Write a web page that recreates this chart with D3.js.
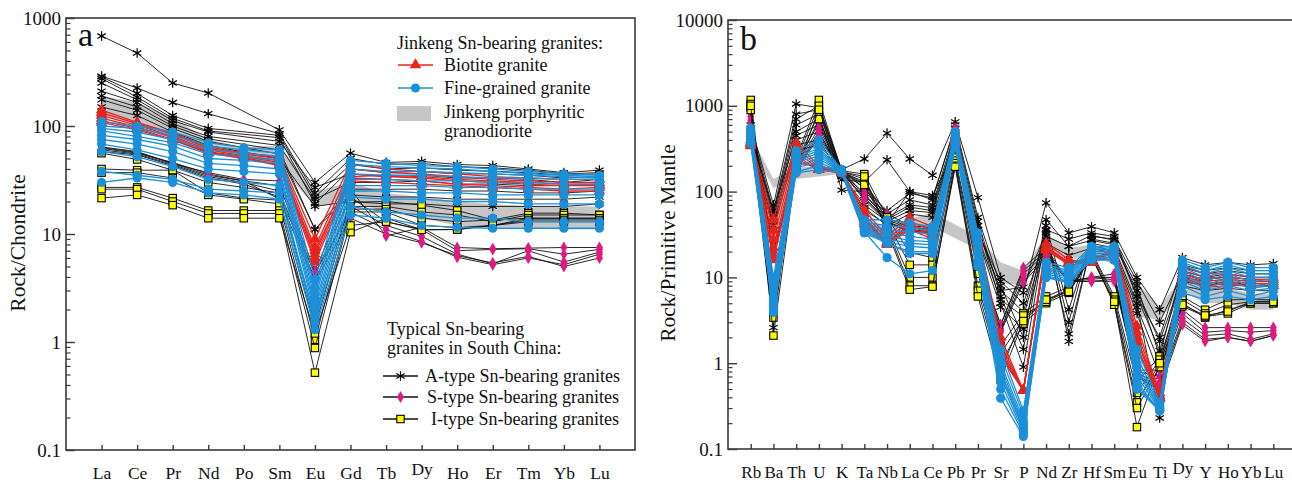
<!DOCTYPE html>
<html>
<head>
<meta charset="utf-8">
<script src="https://cdn.jsdelivr.net/npm/d3@7"></script>
<style>
  body { margin: 0; background: #fff; }
  svg { font-family: "Liberation Serif", "Times New Roman", serif; }
</style>
</head>
<body>
<div id="chart"></div>
<script>
// ---- panel a : chondrite-normalised REE ----
const reeElems = ["La","Ce","Pr","Nd","Po","Sm","Eu","Gd","Tb","Dy","Ho","Er","Tm","Yb","Lu"];

const reeBandHigh = [190,165,120,75,64,66,25,30,24,22,20,19,18,18,18];
const reeBandLow  = [126,105,80,60,52,43,18,20,16,14,12,11.5,11.5,11,11];

const reeAType = [
  [681,474,250,202,null,92,30,56,46,47,44,43,40,37,39],
  [290,225,165,130,null,85,24,50,44,45,42,41,39,36,37],
  [285,200,125,95,null,82,22,44,40,41,39,38,37,35,36],
  [275,185,118,90,null,78,19,40,37,38,36,36,35,33,34],
  [250,175,112,88,null,72,27,36,34,35,33,33,32,30,32],
  [210,165,105,80,null,66,21,30,30,31,29,29,28,28,29],
  [190,150,100,76,null,60,11,26,26,26,25,25,24,24,25],
  [175,140,95,72,null,55,11,23,22,22,21,21,21,21,22],
  [150,125,88,66,null,50,18,20,19,19,18,18,18,18,19]
];
const reeSType = [
  [64,58,45,37,32,31,4.6,26,9.6,11.5,7.5,7.3,7.4,7.5,7.5],
  [62,56,46,36,31,28,4.2,22,13,11,7,7.2,7.3,6.5,7.2],
  [60,55,44,34,30,25,3.8,18,12,9.5,6.5,5.3,7,5.5,6.8],
  [58,54,43,33,29,22,4.4,16,11,8.5,6.1,5.2,6,5.2,6.5],
  [63,57,45,35,31,21,3.6,14,10,8.3,6.3,5.4,6.2,5,6]
];
const reeIType = [
  [56,49,39,30,27,24,1.7,19.7,20,18.5,16.5,13.5,15.6,15.6,15],
  [40,39,39,24,21.5,20.6,1.4,18,18,16,15,13,15,15,15],
  [37,37,33,23,21,19,1.05,17,17,14,13,13.5,14,14,14],
  [27,27,21.5,16.5,16.5,16.5,0.88,16,16,12,11.5,12,14,14,14],
  [26,26,20,15.5,15.5,15.5,0.52,10.4,14,11,11,12,13.5,13.5,13.5],
  [21.5,23,18.5,14,14,14,1.2,12,13,10.9,11,12,13,13,13]
];
const reeBiotite = [
  [140,108,86,64,56,52,9,45,40,38,36,34,33,32,32],
  [132,105,84,62,55,50,7.5,40,37,36,34,32,31,30,30],
  [125,102,80,60,53,48,6.5,36,34,33,31,30,29,28,28],
  [118,98,78,58,52,46,6,33,32,31,29,28,27,26,27],
  [112,95,75,57,51,44,5.5,31,30,29,28,27,26,25,25],
  [108,92,74,56,50,43,7,34,35,34,32,31,30,29,29]
];
const reeFine = [
  [110,100,88,70,63,60,3.8,48,45,43,42,40,38,36,35],
  [100,95,82,65,60,56,3.2,44,42,41,40,38,36,35,34],
  [95,88,75,60,56,52,2.8,40,38,38,37,36,35,34,33],
  [90,80,70,55,52,48,2.5,36,35,35,34,33,33,32,32],
  [82,75,65,50,48,45,2.2,32,32,31,31,30,30,29,29],
  [75,68,58,45,43,40,2,28,28,28,27,27,26,26,26],
  [68,60,50,40,38,36,1.8,25,25,24,24,23,23,23,23],
  [58,52,42,32,30,28,1.6,22,21,21,20,20,19,19,19],
  [38,35,32,26,25,24,1.5,18,16,15,14,14,13,13,13],
  [30,33,30,24,23,21,1.3,15,14,12,11.5,11.3,11.3,11.3,11.3]
];

// ---- panel b : primitive-mantle-normalised spider ----
const spElems = ["Rb","Ba","Th","U","K","Ta","Nb","La","Ce","Pb","Pr","Sr","P","Nd","Zr","Hf","Sm","Eu","Ti","Dy","Y","Ho","Yb","Lu"];

const spBandHigh = [460,140,190,200,190,45,40,48,57,null,30,15,12,32,22,24,20,8.6,4.6,10,8,7.5,6.5,6.5];
const spBandLow  = [330,110,140,150,160,30,28,32,39,null,21,8.6,8,22,16,18,14,3.5,3.2,7,5,5,4.2,4.2];

const spAType = [
  [600,70,1050,950,180,240,480,240,155,650,85,10,6.6,74,33,39,33,10,4.2,17,14,15,14,14.5],
  [550,60,800,900,137,130,235,100,80,600,50,8,2.0,47,23,31,27,6,2,14,12,13,12,12],
  [500,55,700,1000,180,110,60,95,85,550,45,6,1.45,40,4.2,28,25,8,1.2,13,11,12,11,11],
  [480,50,600,800,104,100,55,80,70,500,40,5,0.9,35,1.8,25,22,5,0.23,12,10,11,10,10],
  [450,45,500,700,180,90,50,70,65,450,36,7,7.7,33,3,30,28,9,3,11,9.5,10,9.5,9.5],
  [420,60,450,600,170,85,47,66,60,420,33,9,5,30,23,27,24,7,1.8,10,9,9.5,9,9],
  [400,40,400,500,160,70,45,60,57,380,30,5.5,3.5,28,2.2,24,20,4.5,1,9,8,8.5,8,8],
  [380,35,350,400,150,65,40,55,50,350,28,4.5,2.5,25,18,22,19,3.8,0.7,8,7,7.5,7,7],
  [450,2.6,300,350,175,60,42,100,90,300,36,7,4,36,28,33,30,6,1.4,10,8,9,8,8]
];
const spSType = [
  [830,19.5,215,630,170,125,55,40,38,550,16,2.8,13,22,9,10,11,0.83,0.83,4.2,2.6,2.6,2.6,2.6],
  [750,19.5,200,550,170,110,50,38,36,540,16,2.8,12,20,9,10,10,0.8,0.7,3.8,2.3,2.4,2.3,2.4],
  [680,19.5,190,500,170,95,48,36,34,530,15,2.5,11,19,9,9.5,10,0.75,0.6,3.3,2.1,2.2,1.9,2.2],
  [620,19.5,185,460,170,85,45,35,33,520,15,2.4,9.5,18,9,9,9.5,0.7,0.55,3.0,1.9,2.0,1.8,2.1],
  [580,19.5,180,430,170,80,44,34,32,500,14,2.3,8.7,17,9,9,9,0.7,0.48,2.8,1.8,2.0,1.8,2.1]
];
const spIType = [
  [1170,8.4,250,1170,175,160,50,19.5,17,250,13.5,1.6,3.8,6,7.7,20,6,0.6,1.2,6,4.2,5.5,5.5,5.5],
  [1050,6,230,1000,172,140,45,14,14,230,11,1.3,3.3,5.5,7.2,19,5.5,0.45,1.1,5.5,3.8,4.8,5.2,5.3],
  [950,3.4,210,820,170,130,40,10,10,215,8,1.0,2.9,5,6.6,18,5,0.35,1.0,5,3.4,4.2,5,5],
  [893,2.1,190,700,168,120,38,8,8,200,7,0.8,3.6,5.2,7,18,4.8,0.3,0.9,4.6,3.5,3.8,5,5],
  [1000,5,180,900,170,150,35,7.2,7.8,195,6,0.65,3.1,5.5,6.8,17,5.2,0.18,1.0,4.8,3.6,4,5.2,5.2]
];
const spBiotite = [
  [400,47,370,200,175,61,30,50,39,450,30,2.0,0.48,25,16,15,23,2.7,0.45,13.5,11,11,10,10],
  [380,35,330,190,170,55,28,45,35,420,27,1.7,0.48,23,15,15,21,2.3,0.42,12,10,10,9.5,9.5],
  [360,28,290,185,170,50,26,42,33,400,25,1.5,0.48,22,15,16,20,2.0,0.4,11,9,9.5,9,9],
  [350,22,260,180,165,45,25,38,30,380,23,1.35,0.48,21,14.5,17,19,1.8,0.4,10.5,8.5,9,8.5,8.5],
  [340,18,240,180,165,42,24,36,28,360,22,1.2,0.48,21,14,15,18,1.6,0.38,10,8,8.5,8,8],
  [370,16,215,200,170,48,25,40,32,400,24,1.3,0.48,22,15,16,19,1.45,0.4,9.5,7.7,8,8,8]
];
const spFine = [
  [550,10,300,400,180,47,47,43,39,500,33,1.45,0.28,15,13,23,23,1.45,0.35,16,13,15,13,13],
  [520,8,270,350,178,44,40,38,35,480,28,1.2,0.25,14,12,22,22,1.2,0.33,15,12,14,12,12],
  [500,7,250,320,175,42,36,34,32,450,25,1.0,0.22,13,11.5,21,21,1.0,0.32,14,11,13,11,11],
  [480,6,240,300,175,40,33,30,28,420,22,0.9,0.2,12.5,11,20,20,0.9,0.3,13,10,12,10,10],
  [460,5.5,230,280,172,38,30,27,26,400,20,0.8,0.19,12,10.5,19,19,0.8,0.3,12,9,11,9,9.5],
  [440,5,220,260,170,37,28,25,24,380,18,0.75,0.18,11.5,10,18,18,0.7,0.29,11,8,10,8,8.5],
  [420,4.5,200,240,170,36,26,23,22,370,16,0.7,0.17,11,9.5,17,17,0.6,0.28,10,7.5,9,7.5,8],
  [400,4.2,190,220,168,35,25,20,20,350,15,0.6,0.16,10.5,9,16,16,0.55,0.28,9,7,8,7,7.5],
  [380,4,170,200,168,34,17,11,12,340,13.5,0.5,0.15,10,8.6,16,16,0.5,0.28,8,6,7,6,7],
  [360,3.9,165,180,165,33,25,19,19,330,13.5,0.39,0.14,10,9,17,16,0.5,0.3,6.6,5.5,6,5.5,6]
];

const yTicksA = [0.1,1,10,100,1000];
const yTicksB = [0.1,1,10,100,1000,10000];

const width = 1292, height = 485;
const RED = "#e8231d", BLUE = "#1b90d8", PINK = "#e01a80", YEL = "#ffff00", GRAY = "#c6c6c6";

const svg = d3.select("#chart").append("svg")
  .attr("width", width).attr("height", height)
  .attr("viewBox", [0, 0, width, height]);

// marker drawing
function asterisk(r) {
  const c = r * Math.cos(Math.PI / 6), s = r * Math.sin(Math.PI / 6);
  return `M0,${-r}L0,${r}M${-c},${-s}L${c},${s}M${-c},${s}L${c},${-s}`;
}
function drawMarker(g, type, px, py) {
  if (type === "star") {
    g.append("path").attr("d", asterisk(4.8)).attr("transform", `translate(${px},${py})`)
      .attr("stroke", "#000").attr("stroke-width", 1.2).attr("fill", "none");
  } else if (type === "diamond") {
    g.append("path").attr("d", d3.symbol(d3.symbolDiamond, 42)()).attr("transform", `translate(${px},${py})`)
      .attr("fill", PINK);
  } else if (type === "square") {
    g.append("rect").attr("x", px - 3.7).attr("y", py - 3.7).attr("width", 7.4).attr("height", 7.4)
      .attr("fill", YEL).attr("stroke", "#000").attr("stroke-width", 1.1);
  } else if (type === "triangle") {
    g.append("path").attr("d", d3.symbol(d3.symbolTriangle, 58)()).attr("transform", `translate(${px},${py})`)
      .attr("fill", RED);
  } else if (type === "circle") {
    g.append("circle").attr("cx", px).attr("cy", py).attr("r", 4.6).attr("fill", BLUE);
  }
}

function panel(o) {
  const x = d3.scalePoint().domain(o.elems).range([o.left, o.right]).padding(1);
  const y = d3.scaleLog().domain(o.domain).range([o.bottom, o.top]);
  const g = svg.append("g");

  // granodiorite band
  const band = o.elems.map((e, i) => ({e, hi: o.bandHigh[i], lo: o.bandLow[i]})).filter(d => d.hi != null);
  g.append("path").datum(band)
    .attr("d", d3.area().x(d => x(d.e)).y0(d => y(d.lo)).y1(d => y(d.hi)))
    .attr("fill", GRAY);

  const line = d3.line().x(d => x(d.e)).y(d => y(d.v));
  o.groups.forEach(grp => {
    grp.rows.forEach(row => {
      const pts = o.elems.map((e, i) => ({e, v: row[i]})).filter(d => d.v != null);
      g.append("path").datum(pts).attr("d", line)
        .attr("fill", "none").attr("stroke", grp.stroke).attr("stroke-width", grp.sw);
      pts.forEach(d => drawMarker(g, grp.marker, x(d.e), y(d.v)));
    });
  });

  // frame
  svg.append("rect").attr("x", o.left).attr("y", o.top)
    .attr("width", o.right - o.left).attr("height", o.bottom - o.top)
    .attr("fill", "none").attr("stroke", "#3a3a3a").attr("stroke-width", 1.6);

  // y axis: majors + minors, ticks pointing inward
  const minors = [];
  for (let k = 0; k < o.ticks.length - 1; k++)
    for (let m = 2; m <= 9; m++) minors.push(o.ticks[k] * m);
  svg.append("g").attr("transform", `translate(${o.left},0)`)
    .call(d3.axisLeft(y).tickValues(minors).tickSize(-4.5).tickFormat(""))
    .call(a => a.select(".domain").remove())
    .call(a => a.selectAll("line").attr("stroke", "#3a3a3a").attr("stroke-width", 1.2));
  svg.append("g").attr("transform", `translate(${o.left},0)`)
    .call(d3.axisLeft(y).tickValues(o.ticks).tickSize(-9).tickPadding(5).tickFormat(d => String(d)))
    .call(a => a.select(".domain").remove())
    .call(a => a.selectAll("line").attr("stroke", "#3a3a3a").attr("stroke-width", 1.4))
    .call(a => a.selectAll("text").attr("font-family", "Liberation Serif").attr("font-size", 19).attr("fill", "#111"));

  // x axis
  svg.append("g").attr("transform", `translate(0,${o.bottom})`)
    .call(d3.axisBottom(x).tickSize(-5).tickPadding(o.xPad))
    .call(a => a.select(".domain").remove())
    .call(a => a.selectAll("line").attr("stroke", "#3a3a3a").attr("stroke-width", 1.4))
    .call(a => a.selectAll("text").attr("font-family", "Liberation Serif").attr("font-size", o.xFont).attr("fill", "#111"))
    .call(a => a.selectAll("text").filter(d => d === "Dy").attr("y", o.xPad - 4));

  // y title
  svg.append("text").attr("transform", `translate(${o.titleX},243) rotate(-90)`)
    .attr("text-anchor", "middle").attr("font-size", 21.5).attr("fill", "#111").text(o.title);

  // panel letter
  svg.append("text").attr("x", o.left + 12).attr("y", o.letterY)
    .attr("font-size", 34).attr("fill", "#111").text(o.letter);
}

panel({
  elems: reeElems, left: 66, right: 635, top: 18, bottom: 450, domain: [0.1, 1000], ticks: yTicksA,
  bandHigh: reeBandHigh, bandLow: reeBandLow, xPad: 16.5, xFont: 17.5,
  title: "Rock/Chondrite", titleX: 25, letter: "a", letterY: 46,
  groups: [
    {rows: reeAType, stroke: "#111", sw: 0.9, marker: "star"},
    {rows: reeSType, stroke: "#111", sw: 0.9, marker: "diamond"},
    {rows: reeIType, stroke: "#111", sw: 0.9, marker: "square"},
    {rows: reeBiotite, stroke: RED, sw: 1.3, marker: "triangle"},
    {rows: reeFine, stroke: BLUE, sw: 1.3, marker: "circle"}
  ]
});

panel({
  elems: spElems, left: 728, right: 1296, top: 20, bottom: 449, domain: [0.1, 10000], ticks: yTicksB,
  bandHigh: spBandHigh, bandLow: spBandLow, xPad: 17, xFont: 17,
  title: "Rock/Primitive Mantle", titleX: 675, letter: "b", letterY: 50,
  groups: [
    {rows: spAType, stroke: "#111", sw: 0.9, marker: "star"},
    {rows: spSType, stroke: "#111", sw: 0.9, marker: "diamond"},
    {rows: spIType, stroke: "#111", sw: 0.9, marker: "square"},
    {rows: spBiotite, stroke: RED, sw: 1.3, marker: "triangle"},
    {rows: spFine, stroke: BLUE, sw: 1.3, marker: "circle"}
  ]
});

// ---- legends in panel a ----
const lg = svg.append("g").attr("font-size", 18).attr("fill", "#111");
lg.append("text").attr("x", 397).attr("y", 49).text("Jinkeng Sn-bearing granites:");
function legItem(x0, yy, stroke, marker, label, tx) {
  lg.append("line").attr("x1", x0).attr("x2", x0 + 35).attr("y1", yy).attr("y2", yy)
    .attr("stroke", stroke).attr("stroke-width", 1.3);
  drawMarker(lg, marker, x0 + 17.5, yy);
  lg.append("text").attr("x", tx).attr("y", yy + 5.5).text(label);
}
legItem(398, 65, RED, "triangle", "Biotite granite", 444);
legItem(398, 88, BLUE, "circle", "Fine-grained granite", 444);
lg.append("rect").attr("x", 397).attr("y", 106).attr("width", 34).attr("height", 15).attr("fill", GRAY);
lg.append("text").attr("x", 444).attr("y", 118).text("Jinkeng porphyritic");
lg.append("text").attr("x", 444).attr("y", 137).text("granodiorite");

lg.append("text").attr("x", 387).attr("y", 335).text("Typical Sn-bearing");
lg.append("text").attr("x", 387).attr("y", 354).text("granites in South China:");
legItem(383, 376, "#111", "star", "A-type Sn-bearing granites", 425);
legItem(383, 397, "#111", "diamond", "S-type Sn-bearing granites", 427);
legItem(383, 419, "#111", "square", "I-type Sn-bearing granites", 431);
</script>
</body>
</html>
